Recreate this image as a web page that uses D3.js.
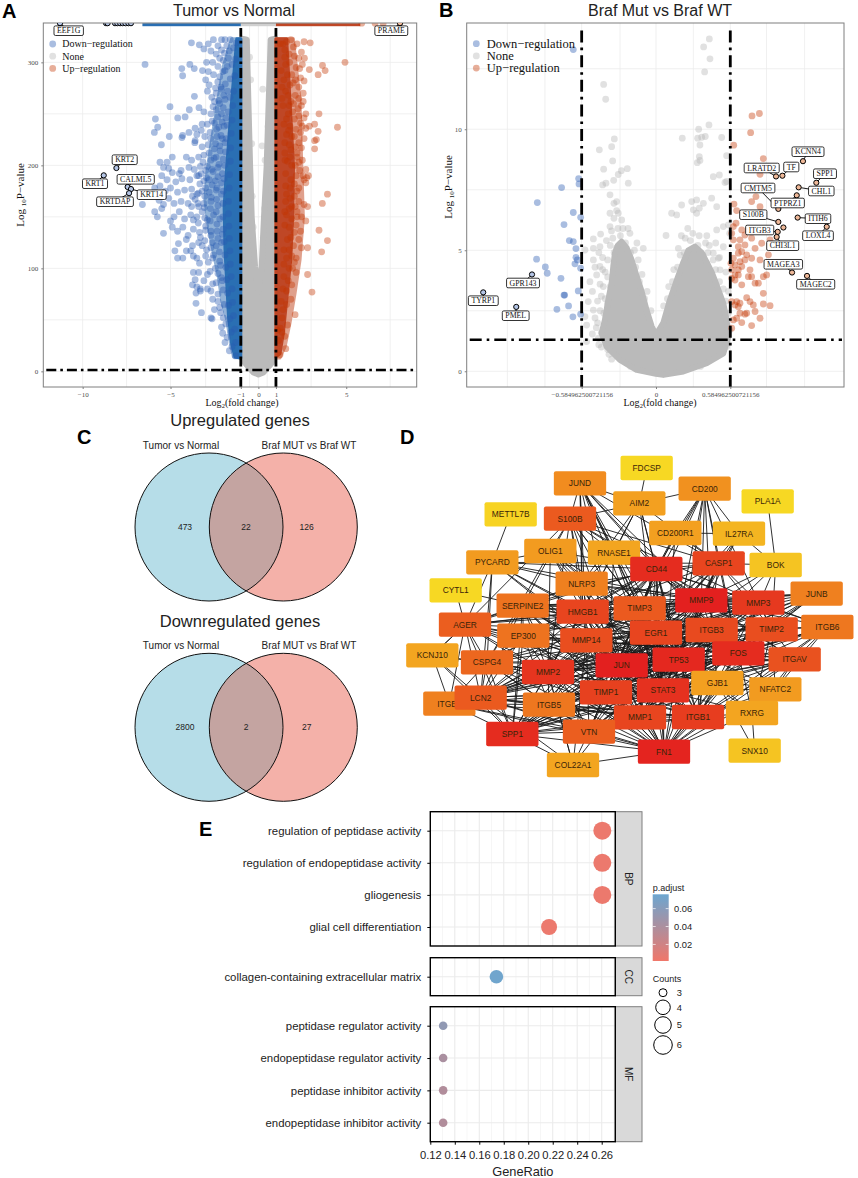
<!DOCTYPE html>
<meta charset='utf-8'>
<style>
    body { margin: 0; background: #fff }
    text { font-family: 'Liberation Sans', Arial, sans-serif }
    .serif text, text.serif, .serif tspan { font-family: 'Liberation Serif', 'Times New Roman', serif }
</style>
<body>
<script src='https://cdnjs.cloudflare.com/ajax/libs/d3/7.8.5/d3.min.js'></script>
<script>
// panel A: volcano values, [log2fc, -log10p]
var downA = [[-3.81,319],[-3.36,317],[-2.85,318],[-2.56,322],[-2.1,322],[-2.3,316],[-1.9,322],[-1.6,322],[-3.1,313],[-2.7,311],[-2.4,308],[-2.1,312],[-1.8,316],
  [-6.45,298],[-3.9,298],[-3.65,294],[-4.36,294],[-4.31,287],[-3.18,292],[-2.95,300],[-2.6,300],[-2.3,296],[-2,302],[-1.7,304],[-3,283],[-2.85,291],[-2.55,288],[-2.2,286],[-1.9,292],
  [-3.64,267],[-2.9,272],[-2.65,266],[-2.4,270],[-2.1,274],[-2.8,278],[-2.5,262],[-1.9,264],[-2.2,260],[-1.75,272],
  [-5.03,257],[-3.93,254],[-3.38,256],[-3.1,252],[-2.7,250],[-2.4,254],[-2.1,250],[-1.85,246],
  [-5.86,245],[-4.59,246],[-4.17,247],[-2.9,240],[-3.2,240],[-2.5,241],[-2.25,237],[-1.95,238],[-3.25,234],[-3.6,236],
  [-5.73,237],[-5.92,232],[-5.07,228],[-4.31,229],[-3.95,232],[-3.5,230],[-3.05,228],[-2.75,232],[-2.35,228],[-2.05,226],[-4.35,227],
  [-5.52,220],[-3.6,224],[-3.62,222],[-3.2,218],[-2.85,220],[-2.5,216],[-2.2,219],[-1.9,222],
  [-4.9,208],[-5.6,203],[-5.2,203],[-4.1,208],[-3.8,205],[-3.4,208],[-3.1,210],[-2.7,205],[-2.4,208],[-2,206],
  [-5.1,197],[-5.4,198],[-4.9,193],[-4.4,195],[-4.5,192],[-3.95,198],[-3.65,196],[-3.3,199],[-3,195],[-2.65,196],[-2.3,198],[-2.05,192],
  [-5.5,190],[-5.2,186],[-4.7,184],[-4.35,187],[-3.9,186],[-3.5,190],[-3.4,190],[-3.1,185],[-2.8,186],[-2.45,185],[-2.1,183],
  [-5.9,178],[-5.6,180],[-5.3,175],[-5,178],[-4.6,174],[-4.2,176],[-3.8,177],[-3.5,172],[-3.2,175],[-2.8,174],[-2.4,176],[-2.1,172],
  [-6.6,162],[-5.65,166],[-5.4,162],[-5.1,168],[-4.8,163],[-4.4,165],[-4,163],[-3.6,167],[-3.4,160],[-3.1,163],[-2.7,165],[-2.3,161],
  [-5.9,155],[-5.75,150],[-5.5,158],[-5,146],[-4.8,150],[-4.5,155],[-4.2,148],[-3.85,152],[-3.5,150],[-3.2,155],[-2.9,147],[-2.55,152],[-2.2,148],
  [-5.4,134],[-4.9,140],[-4.6,136],[-4.3,140],[-4,132],[-3.7,138],[-3.35,135],[-3,137],[-2.7,132],[-2.35,136],[-2.05,133],
  [-4.55,124],[-4.1,128],[-3.75,122],[-3.4,125],[-3.05,127],[-2.7,120],[-2.4,122],[-2.1,125],
  [-4.75,117],[-4.6,110],[-4.3,110],[-4.1,117],[-3.85,117],[-3.7,112],[-3.5,110],[-3.35,105],[-3,112],[-2.6,110],[-2.2,107],
  [-3.7,96],[-3.6,89],[-3.4,96],[-3.75,84],[-3.5,82],[-3.3,80],[-3.1,88],[-2.9,94],[-2.6,85],[-2.3,95],[-2.05,88],
  [-3.55,76],[-3.3,78],[-2.9,80],[-2.6,70],[-2.3,75],[-3.55,66],[-3.24,57],[-2.7,52],[-2.5,60],[-2.2,62],[-2,52],[-2.64,51],[-2.03,37],
  // the thicker cloud next to the threshold
  [-1.25,319],[-1.42,314],[-1.66,311],[-1.93,309],[-2.2,304],[-1.3,303],[-1.5,298],[-1.77,296],[-2.02,291],[-2.31,281],[-1.35,287],[-1.6,284],[-1.88,279],[-2.13,276],[-2.44,275],
  [-1.41,272],[-1.62,266],[-1.97,268],[-2.26,263],[-2.58,257],[-1.46,258],[-1.71,252],[-2,256],[-2.31,247],[-2.63,243],[-1.5,244],[-1.78,239],[-2.06,242],[-2.38,235],[-2.71,226],
  [-1.55,231],[-1.83,226],[-2.13,229],[-2.44,221],[-2.8,212],[-1.58,217],[-1.87,213],[-2.18,214],[-2.52,207],[-2.9,199],[-3.15,203],[-1.6,204],[-1.92,200],[-2.24,201],[-2.58,194],[-2.95,188],[-3.25,192],
  [-1.64,191],[-1.96,187],[-2.3,189],[-2.63,181],[-3,178],[-3.33,182],[-1.66,178],[-2,175],[-2.35,178],[-2.68,169],[-3.05,170],[-3.41,173],[-3.75,170],[-1.7,165],[-2.02,163],[-2.38,167],[-2.73,158],[-3.08,159],[-3.44,163],[-3.8,160],
  [-1.7,153],[-2.02,150],[-2.4,155],[-2.74,146],[-3.05,149],[-3.42,144],[-3.7,147],[-1.68,141],[-2,138],[-2.36,143],[-2.7,136],[-3,141],[-3.3,130],[-1.65,129],[-1.95,126],[-2.3,129],[-2.62,125],[-2.95,118],[-3.2,122],
  [-1.62,117],[-1.9,113],[-2.22,116],[-2.55,113],[-2.85,106],[-1.6,104],[-1.85,101],[-2.15,103],[-2.45,100],[-2.75,97],[-1.55,92],[-1.8,89],[-2.1,91],[-2.4,86],[-2.7,78],[-1.5,80],[-1.75,76],[-2,79],[-2.3,68],
  [-1.47,67],[-1.7,64],[-1.95,65],[-2.15,57],[-1.42,54],[-1.62,51],[-1.85,46],[-2.1,43],[-1.35,41],[-1.55,38],[-1.78,33],[-1.9,28],[-1.3,28],[-1.5,24],[-1.65,20],[-1.3,15]];
var upA = [[2.95,319],[2.2,318],[2.6,320],[1.85,322],[2,315],[1.6,320],[1.4,318],[2.45,310],[2.3,304],[1.75,308],[1.5,312],
  [4.93,300],[3.65,297],[3.8,292],[3.4,288],[2.9,293],[2.5,298],[2.15,295],[1.9,288],[1.55,298],[2.1,283],[2.4,285],[1.8,278],[1.45,283],
  [2.55,270],[2.3,265],[2.1,268],[1.85,262],[2.45,258],[1.55,272],[1.75,258],[1.35,265],
  [3.45,250],[2.3,248],[1.95,252],[2.6,246],[3.2,240],[1.6,245],[2.9,238],[3.4,233],[4.5,237],[2.7,236],[2.4,232],[2.15,235],[1.8,238],
  [3.3,225],[3.2,224],[2.6,226],[2.3,222],[1.9,228],[1.6,230],[3.2,216],[2.1,218],[1.75,220],[1.5,212],
  [2.5,205],[2.2,208],[1.9,200],[1.65,204],[2.35,195],[2.7,196],[2.55,190],[2.75,188],[2.85,190],[2.6,186],[2.7,183],[2.15,190],[1.85,186],[1.55,192],
  [3.93,172],[2.2,175],[1.8,178],[2.05,170],[1.6,172],[3.64,163],[2.3,165],[2.6,162],[2.8,160],[2.1,160],[1.75,158],[1.55,165],
  [2.7,146],[2.2,150],[1.9,148],[1.6,152],[3.45,137],[2.4,136],[2.05,135],[1.75,140],[3.93,127],[2.45,120],[2.8,120],[2,122],[1.65,128],[2.15,110],[1.9,112],[3.6,116],[1.6,110],
  [2.8,94],[2.15,96],[1.75,100],[1.45,92],[1.9,84],[3.05,77],[1.6,78],[1.3,68],[2.09,55],[1.35,52],[1.1,40],[1.56,22],[1.23,16],[1.15,30],[1.25,42],[1.4,60],
  [1.25,318],[1.5,305],[1.78,300],[2.05,306],[2.35,294],[2.62,304],[1.3,292],[1.65,288],[1.98,280],[2.3,276],[2.6,282],[1.35,276],[1.7,268],[2,260],[2.25,255],[2.55,262],
  [1.4,258],[1.7,250],[2.05,245],[2.4,241],[2.7,250],[1.45,240],[1.72,234],[2.05,228],[2.5,238],[1.5,222],[1.85,215],[2.2,212],[2.45,217],[1.52,205],[1.8,208],[2.1,200],[2.3,203],
  [1.55,180],[1.8,168],[2.05,182],[2.3,178],[1.5,155],[1.9,160],[2.2,155],[2.45,150],[1.5,142],[1.85,130],[2.15,142],[2.3,128],[1.45,118],[1.75,118],[2.05,106],[1.45,104],[1.7,88],[1.95,100],[1.4,80],[1.6,65],[1.85,70],[1.35,38],[1.5,34],[1.65,45]];
var noneA = [[-0.44,283],[0.25,274],[-0.63,267],[0.21,219],[-0.38,221],[0.38,205],[-0.5,305],[0.72,300],[0.68,245],[0.55,238],[-0.62,240],[-0.55,180],[0.5,178],[-0.35,170],[0.35,158],[-0.3,140],[0.28,130],[-0.85,322],[0.85,320],[0.78,310],[-0.75,312]];
// the solid masses, too dense to read point by point, as outlines
var coreNoneA = [[-0.95,323],[-0.66,322],[-0.57,263],[-0.47,199],[-0.38,150],[-0.19,102],[0,77],[0.19,102],[0.32,150],[0.47,199],[0.59,263],[0.7,322],[0.97,323],[1,24],[0.76,8],[0.28,-1],[0,-3],[-0.28,-1],[-0.76,8],[-1,24]];
var midDownA = [[-1.52,323],[-2,296],[-2.37,257],[-2.75,215],[-2.94,192],[-3.04,166],[-2.85,140],[-2.56,115],[-2.28,92],[-2.09,69],[-1.8,50],[-1.61,30],[-1.42,14],[-1.04,13],[-1,323]];
var coreDownA = [[-1.23,323],[-1.52,263],[-1.8,199],[-1.95,160],[-1.9,118],[-1.8,85],[-1.7,53],[-1.52,27],[-1.33,14],[-1,13],[-1,323]];
var midUpA = [[1.99,323],[2.37,263],[2.47,199],[2.56,150],[2.37,108],[2.09,76],[1.8,47],[1.52,24],[1.23,13],[1,13],[1,323]];
var coreUpA = [[1.61,323],[1.8,263],[2,199],[1.95,150],[1.84,108],[1.61,69],[1.42,37],[1.23,17],[1,14],[1,323]];
var capY = 338;                       // values above this sit on the top edge of panel A
var capDownRange = [-6.6, -1];
var capNoneRange = [-1, 1];
var capUpRange = [1, 5.8];
var capUpExtra = [5.88, 6.64, 7.1];
var capMarked = [-8.67, -8.58, -8.16, -8.03, -7.87, -7.72, -7.57, -7.4, -7.25];
var genesA = ['KRT2', 'KRT1', 'CALML5', 'KRT14', 'KRTDAP', 'EEF1G', 'PRAME'];
var genesAx = [-8.08, -8.8, -7.44, -7.25, -7.36, -11.29, 8.06];
var genesAy = [197.4, 190.3, 179, 177, 173, 338, 338];
var genesAkind = ['down', 'down', 'down', 'down', 'down', 'down', 'up'];

// panel B
var downB = [[-0.651,13.29],[-0.609,7.96],[-0.606,7.74],[-0.743,7.59],[-0.934,6.97],[-0.651,6.56],[-0.593,6.36],[-0.724,6.06],[-0.682,5.4],[-0.651,5.36],[-0.63,5.07],[-0.94,4.63],[-0.63,4.71],[-0.619,4.6],[-0.638,4.44],[-0.871,4.31],[-0.856,4.05],[-0.593,4.26],[-0.748,3.84],[-0.719,3.15],[-0.724,3.15],[-0.612,3.32],[-0.688,2.7],[-0.78,2.56],[-0.654,2.25],[-0.593,2.36]];
var upB = [[0.814,10.65],[0.756,10.55],[0.745,9.86],[0.612,9.34],[0.845,8.79],[0.819,8.14],[0.787,7.22],[0.753,7.01],[0.819,6.8],[0.614,6.91],[0.635,6.64],[0.845,6.53],[0.63,6.12],[0.609,5.98],[0.675,5.84],[0.727,5.84],[0.7,5.63],[0.661,5.43],[0.753,5.5],[0.832,5.29],[0.898,5.43],[0.596,5.7],[0.609,5.43],[0.648,5.15],[0.7,5.22],[0.675,4.94],[0.648,4.88],[0.714,4.81],[0.753,4.67],[0.78,5.08],[0.885,4.81],[0.898,4.46],[0.59,4.46],[0.609,4.67],[0.622,4.39],[0.661,4.53],[0.7,4.6],[0.819,4.6],[0.596,4.19],[0.648,4.19],[0.675,4.33],[0.622,3.98],[0.648,3.98],[0.596,3.84],[0.622,3.77],[0.675,3.57],[0.727,3.91],[0.753,3.91],[0.78,3.64],[0.806,3.64],[0.845,3.91],[0.871,3.98],[0.74,4.19],[0.845,3.22],[0.714,3.04],[0.74,2.88],[0.766,2.74],[0.635,2.88],[0.661,2.81],[0.596,2.88],[0.622,2.74],[0.648,2.67],[0.845,2.78],[0.898,2.71],[0.661,2.4],[0.7,2.36],[0.78,2.47],[0.609,2.12],[0.635,2.19],[0.675,2.01],[0.753,1.89],[0.819,2.19],[0.714,2.4],[0.596,1.78]];
var noneB = [[0.42,13.73],[0.375,13.4],[0.425,12.91],[0.383,12.37],[-0.412,11.85],[-0.396,11.24],[0.417,10.18],[0.336,10],[0.207,9.63],[0.328,9.63],[0.36,9.67],[0.388,9.7],[0.517,9.66],[0.346,9.35],[0.556,8.91],[0.341,8.87],[0.346,8.71],[0.325,8.62],[0.556,7.84],[0.451,8.04],[0.499,8.11],[0.543,7.8],[-0.328,9.6],[-0.349,9.28],[-0.446,9.15],[-0.341,8.69],[-0.412,8.35],[-0.273,8.29],[-0.226,8.37],[-0.297,8.13],[-0.394,7.77],[-0.333,7.89],[-0.218,7.77],[-0.42,7.7],[-0.362,7.29],[-0.31,7.01],[-0.331,6.94],[-0.31,6.64],[-0.362,6.53],[-0.297,6.53],[-0.331,6.32],[-0.27,6.25],[-0.436,5.67],[-0.493,5.47],[-0.362,5.98],[-0.205,5.7],[0.123,6.53],[0.163,6.46],[0.202,6.87],[0.281,7.01],[0.32,7.08],[0.341,6.74],[0.373,6.94],[0.438,7.15],[0.478,6.8],[0.294,6.67],[0.32,6.53],[0.079,5.61],[0.478,5.84],[0.53,5.98],[0.57,6.05],[0.176,5.08],[-0.559,5.01],[-0.493,5.08],[-0.441,5.15],[-0.1,5.08],[-0.533,2.88],[-0.493,2.53],[-0.559,2.26],[-0.546,1.91],[-0.501,1.54],[-0.454,1.36],[-0.349,0.5],[-0.27,0.54],[0.53,1.78],[0.412,0.95],[0.556,1.02],[-0.546,1.23],[-0.493,4.6],[-0.467,3.98],[-0.441,4.33],[-0.415,3.5],[0.4,4.46],[0.451,4.88],[0.491,4.67],[0.504,4.19],[0.53,5.15],[0.58,5.7],
  [-0.42,4.2],[-0.38,4.6],[-0.33,4.9],[-0.36,3.5],[-0.4,3],[-0.44,2.5],[-0.46,2],[-0.43,1.6],[-0.31,5.1],[-0.28,5.6],[-0.24,5.3],[-0.2,4.9],[-0.16,4.3],[-0.13,3.7],[-0.09,3],[0.09,3],[0.13,3.7],[0.17,4.3],[0.22,4.9],[0.27,5.4],[0.33,5.2],[0.37,4.8],[0.43,4],[0.48,3.2],[0.52,2.5],[0.55,1.9],[0.5,1.2],[0.44,0.8],[-0.38,0.9],[-0.3,0.6],[-0.45,1.1],
  [-0.48,2.2],[-0.46,2.9],[-0.44,3.6],[-0.4,4.1],[-0.38,3.9],[-0.42,4.7],[-0.36,5.2],[-0.34,5.5],[-0.39,5.4],[-0.35,5.8],[-0.3,5.9],[-0.26,5.9],[-0.22,5.9],[-0.43,3.1],[-0.47,1.8],[-0.41,2.4],[-0.38,2.8],[-0.5,3.3],[-0.52,3.7],[-0.48,4.3],[-0.45,4.9],[-0.17,5],[-0.14,4.6],[-0.11,4],[-0.07,3.3],[-0.04,2.5],
  [0.06,2.7],[0.1,3.5],[0.14,4.2],[0.19,4.8],[0.23,5.5],[0.29,5.7],[0.34,5.6],[0.39,5.3],[0.41,4.9],[0.45,4.6],[0.47,4.2],[0.5,3.7],[0.53,3.4],[0.55,2.9],[0.57,2.4],[0.58,1.7],[0.56,1.3],[0.52,0.9],[0.47,0.6],[0.35,0.2],[0.25,0.1],[-0.2,0.2],[-0.37,0.7],[-0.43,1],[-0.15,5.3],[0.33,4.9],[0.42,5.2],[0.47,5.3],[0.5,4.7],[0.55,4.1],[0.57,3.3],[0.4,5.6],[0.25,5.9],[0.2,5.6]];
var coreNoneB = [[0,-0.1],[-0.152,0.06],[-0.283,0.47],[-0.388,1.02],[-0.428,1.57],[-0.402,2.12],[-0.375,2.95],[-0.349,3.64],[-0.336,4.33],[-0.323,4.88],[-0.3,5.2],[-0.27,5.35],[-0.231,5.1],[-0.192,4.6],[-0.157,4.0],[-0.113,3.3],[-0.073,2.5],[-0.034,1.85],[0,1.5],[0.058,2.0],[0.11,2.95],[0.163,3.75],[0.215,4.5],[0.255,5.0],[0.307,5.15],[0.36,4.9],[0.399,4.5],[0.438,4.1],[0.478,3.55],[0.53,2.8],[0.556,2.12],[0.57,1.43],[0.53,0.74],[0.399,0.33],[0.215,-0.01],[0.058,-0.15]];
var genesB = ['KCNN4', 'LRATD2', 'TF', 'SPP1', 'CHL1', 'CMTM5', 'PTPRZ1', 'S100B', 'ITIH6', 'LOXL4', 'ITGB3', 'CHI3L1', 'MAGEA3', 'MAGEC2', 'GPR143', 'TYRP1', 'PMEL'];
var genesBx = [1.157, 0.945, 0.995, 1.262, 1.123, 0.963, 1.108, 0.963, 1.115, 1.344, 0.958, 0.95, 1.071, 1.189, -0.976, -1.36, -1.1];
var genesBy = [8.68, 8.05, 8.08, 7.79, 7.6, 6.71, 7.27, 6.17, 6.35, 5.97, 5.76, 5.55, 4.08, 3.94, 4, 3.26, 2.66];
var genesBkind = ['up', 'up', 'up', 'up', 'up', 'up', 'up', 'up', 'up', 'up', 'up', 'up', 'up', 'up', 'down', 'down', 'down'];
var extraMarkedB = [[1.003, 5.94]];

var legendNames = ['Down\u2212regulation', 'None', 'Up\u2212regulation'];
var thresholdA = { fc: 1, p: 1.3 };
var thresholdB = { fc: 0.584962500721156, p: 1.3 };

// panel C
var vennLabels = ['Tumor vs Normal', 'Braf MUT vs Braf WT'];
var vennUp = [473, 22, 126];
var vennDown = [2800, 2, 27];

// panel D: nodes in paint order, positions are the layout of the network drawing
var nodeNames = ['FDCSP','JUND','CD200','AIM2','PLA1A','S100B','METTL7B','CD200R1','IL27RA','OLIG1','RNASE1','PYCARD','CD44','CASP1','BOK','NLRP3','CYTL1','JUNB','SERPINE2','MMP9','MMP3','HMGB1','TIMP3','AGER','ITGB6','EP300','MMP14','EGR1','ITGB3','TIMP2','KCNJ10','CSPG4','FOS','TP53','ITGAV','JUN','MMP2','GJB1','NFATC2','ITGB8','LCN2','ITGB5','TIMP1','STAT3','RXRG','MMP1','ITGB1','SPP1','VTN','SNX10','FN1','COL22A1'];
var nodeU = [680,480,854,658,1043,450,272,766,957,391,582,217,709,896,1067,485,107,1190,308,844,1015,488,659,135,1222,310,499,708,875,1055,37,201,955,776,1124,605,384,892,1066,88,182,387,558,729,996,660,834,277,507,1004,732,459];
var nodeV = [84,130,146,190,184,236,223,279,281,333,338,367,387,370,375,431,451,461,497,481,488,515,505,554,561,587,601,578,570,568,646,667,640,659,658,676,696,729,748,791,773,794,757,751,819,832,831,882,875,932,935,975];
var nodeDegree = [1,16,15,12,1,28,2,12,8,13,11,13,39,33,5,19,1,19,22,42,36,33,28,27,21,22,31,33,32,31,11,25,39,40,30,42,37,12,13,19,28,21,34,38,11,33,35,39,27,5,41,11];
var edgeLists = [
  'FDCSP AIM2', 'METTL7B PYCARD', 'PLA1A BOK', 'CYTL1 AGER SERPINE2', 'SNX10 RXRG GJB1', 'COL22A1 FN1 VTN SPP1 MMP2',
  'JUND S100B AIM2 CD44 HMGB1 NLRP3 TIMP3 MMP9 JUN FOS TP53 STAT3 EGR1 MMP14 CASP1 RNASE1',
  'CD200 AIM2 CD200R1 IL27RA CASP1 CD44 MMP9 TIMP3 ITGB3 STAT3 TP53 FOS TIMP2 JUN',
  'AIM2 S100B CD44 CASP1 NLRP3 HMGB1 TP53 STAT3 RNASE1',
  'S100B OLIG1 RNASE1 AGER NLRP3 HMGB1 CD44 MMP9 MMP2 JUN TP53 STAT3 CASP1 MMP3 SERPINE2 TIMP3',
  'CD200R1 CD44 CASP1 IL27RA STAT3 TIMP3', 'IL27RA CASP1 MMP9 STAT3 JUN BOK',
  'OLIG1 PYCARD NLRP3 EGR1 CD44 TIMP3 JUN STAT3 MMP2 CSPG4 TP53 HMGB1',
  'RNASE1 CD44 TIMP3 TIMP1 MMP2 STAT3 MMP9 NLRP3',
  'PYCARD CASP1 NLRP3 HMGB1 CD44 JUN STAT3 TP53 AGER CSPG4 LCN2 MMP9',
  'BOK CASP1 MMP9 JUN TP53 TIMP2 FOS',
  'CD44 CASP1 MMP9 MMP3 MMP2 MMP14 TIMP1 TIMP2 TIMP3 EGR1 FN1 SPP1 VTN JUN TP53 FOS STAT3 HMGB1 ITGB1 ITGB3 ITGAV ITGB5 ITGB6 LCN2 SERPINE2 EP300 MMP1 AGER CSPG4',
  'CASP1 NLRP3 HMGB1 MMP9 MMP3 JUN TP53 FOS STAT3 ITGB1 MMP1 TIMP1 EGR1 LCN2 TIMP2 SPP1',
  'NLRP3 HMGB1 MMP9 JUN TP53 STAT3 TIMP1 MMP3 AGER SERPINE2 FN1',
  'JUNB JUN FOS MMP9 MMP3 EGR1 TP53 STAT3 TIMP1 MMP1 TIMP2 ITGB3 HMGB1 SERPINE2',
  'SERPINE2 AGER MMP2 MMP14 MMP9 MMP3 EGR1 JUN TP53 FOS STAT3 TIMP1 TIMP2 TIMP3 LCN2 ITGB1 ITGB3 FN1 SPP1 VTN EP300 CSPG4 MMP1',
  'MMP9 MMP3 MMP2 MMP14 MMP1 TIMP1 TIMP2 TIMP3 FN1 SPP1 VTN JUN TP53 FOS STAT3 EGR1 HMGB1 LCN2 ITGB1 ITGB3 ITGAV COL22A1 AGER EP300 CSPG4 ITGB5',
  'MMP3 MMP2 MMP14 MMP1 TIMP1 TIMP2 TIMP3 FN1 SPP1 VTN JUN FOS STAT3 TP53 LCN2 ITGB1 AGER EGR1',
  'HMGB1 AGER TP53 STAT3 JUN EP300 FOS EGR1 LCN2 SPP1 MMP2 TIMP1 FN1 ITGB3 ITGB1 MMP1 MMP14 CSPG4',
  'TIMP3 TIMP1 TIMP2 MMP2 MMP14 MMP1 EGR1 STAT3 JUN FOS TP53 FN1 VTN SPP1 ITGB1 ITGB3',
  'AGER MMP2 STAT3 JUN TP53 EP300 LCN2 SPP1 FN1 CSPG4 ITGB8 ITGB1 KCNJ10 EGR1',
  'ITGB6 ITGAV ITGB1 ITGB3 ITGB5 TIMP2 FN1 SPP1 VTN MMP3 MMP9 NFATC2 FOS TIMP1',
  'EP300 TP53 JUN STAT3 FOS EGR1 MMP2 MMP14 ITGB5 LCN2 FN1 SPP1 CSPG4 TIMP1',
  'MMP14 MMP2 TIMP1 TIMP2 FN1 SPP1 VTN ITGB1 ITGB3 ITGAV ITGB5 JUN TP53 STAT3 LCN2 CSPG4 FOS MMP1 COL22A1 EGR1',
  'EGR1 JUN FOS TP53 STAT3 ITGB3 ITGB1 FN1 SPP1 TIMP1 TIMP2 MMP2 MMP1 VTN NFATC2 ITGAV GJB1',
  'ITGB3 ITGB1 ITGAV ITGB5 ITGB8 FN1 VTN SPP1 TIMP1 TIMP2 MMP2 MMP1 FOS JUN TP53 STAT3 GJB1 NFATC2 LCN2 CSPG4',
  'TIMP2 TIMP1 MMP2 MMP1 FN1 VTN ITGAV ITGB1 FOS JUN STAT3 TP53 NFATC2 GJB1 RXRG',
  'KCNJ10 CSPG4 ITGB8 AGER LCN2 MMP2 SPP1', 'CSPG4 MMP2 LCN2 ITGB8 ITGB5 SPP1 VTN JUN STAT3 TP53 FN1 TIMP1 MMP1',
  'FOS JUN TP53 STAT3 ITGAV NFATC2 GJB1 TIMP1 MMP1 MMP2 FN1 ITGB1 SPP1 RXRG',
  'TP53 JUN STAT3 MMP2 TIMP1 MMP1 FN1 ITGB1 SPP1 LCN2 ITGAV NFATC2 GJB1 VTN RXRG ITGB5',
  'ITGAV ITGB1 ITGB5 FN1 VTN SPP1 MMP2 TIMP1 NFATC2 JUN STAT3 RXRG',
  'JUN STAT3 MMP2 MMP1 TIMP1 FN1 SPP1 LCN2 ITGB1 ITGB5 VTN NFATC2 GJB1 ITGB8',
  'MMP2 TIMP1 MMP1 FN1 SPP1 VTN LCN2 ITGB1 ITGB5 ITGB8 STAT3 COL22A1',
  'GJB1 ITGB1 STAT3 MMP1 FN1 RXRG', 'NFATC2 STAT3 ITGB1 FN1 RXRG',
  'ITGB8 LCN2 SPP1 VTN ITGB5 FN1 ITGB1 TIMP1', 'LCN2 SPP1 ITGB5 TIMP1 MMP1 VTN FN1 STAT3 ITGB1 COL22A1',
  'ITGB5 SPP1 VTN FN1 TIMP1 MMP1 ITGB1 STAT3', 'TIMP1 STAT3 MMP1 FN1 SPP1 VTN ITGB1',
  'STAT3 MMP1 ITGB1 FN1 SPP1 VTN RXRG', 'RXRG ITGB1 FN1', 'MMP1 ITGB1 FN1 SPP1 VTN', 'ITGB1 FN1 SPP1 VTN',
  'SPP1 VTN FN1', 'VTN FN1'];

// panel E
var facetNames = ['BP', 'CC', 'MF'];
var termsBP = ['regulation of peptidase activity', 'regulation of endopeptidase activity', 'gliogenesis', 'glial cell differentiation'];
var termsCC = ['collagen-containing extracellular matrix'];
var termsMF = ['peptidase regulator activity', 'endopeptidase regulator activity', 'peptidase inhibitor activity', 'endopeptidase inhibitor activity'];
var ratioBP = [0.2605, 0.2605, 0.2605, 0.217], ratioCC = [0.174], ratioMF = [0.1305, 0.1305, 0.1305, 0.1305];
var countBP = [6, 6, 6, 5], countCC = [4], countMF = [3, 3, 3, 3];
var padjBP = [0.004, 0.004, 0.004, 0.004], padjCC = [0.074], padjMF = [0.055, 0.041, 0.037, 0.037];
var ratioTicks = [0.12, 0.14, 0.16, 0.18, 0.2, 0.22, 0.24, 0.26];
var padjTicks = [0.02, 0.04, 0.06];
var countLegend = [3, 4, 5, 6];

var width = 858, height = 1178;
var svg = d3.select('body').append('svg').attr('width', width).attr('height', height).style('display', 'block');

var letters = [['A', 2, 18], ['B', 439, 17], ['C', 77, 444], ['D', 400, 444], ['E', 199, 836]];
svg.selectAll('.letter').data(letters).enter().append('text').attr('class', 'letter')
    .attr('x', function(d) { return d[1]; }).attr('y', function(d) { return d[2]; })
    .style('font-size', '20px').style('font-weight', 'bold').text(function(d) { return d[0]; });

var dotColor = { down: '#285ab1', none: '#b5b5b5', up: '#c23500' };
var lightColor = { down: '#b4c5e6', up: '#eeb898' };

function volcano(o) {
    var g = svg.append('g').attr('class', 'serif');
    var x = d3.scaleLinear().domain(o.xDomain).range([o.left, o.right]);
    var y = d3.scaleLinear().domain(o.yDomain).range([o.bottom, o.top]);
    var clip = 'clip' + o.id;
    g.append('clipPath').attr('id', clip).append('rect')
        .attr('x', o.left).attr('y', o.top).attr('width', o.right - o.left).attr('height', o.bottom - o.top);

    g.selectAll('.gx').data(o.gridX).enter().append('line').attr('stroke', '#ececec').attr('stroke-width', 0.8)
        .attr('x1', x).attr('x2', x).attr('y1', o.top).attr('y2', o.bottom);
    g.selectAll('.gy').data(o.gridY).enter().append('line').attr('stroke', '#ececec').attr('stroke-width', 0.8)
        .attr('y1', y).attr('y2', y).attr('x1', o.left).attr('x2', o.right);

    var plot = g.append('g').attr('clip-path', 'url(#' + clip + ')');
    var outline = d3.line().x(function(d) { return x(d[0]); }).y(function(d) { return y(d[1]); }).curve(d3.curveLinearClosed);
    function mass(points, color, edge, opacity) {
        plot.append('path').attr('d', outline(points)).attr('fill', color).attr('opacity', opacity)
            .attr('stroke', color).attr('stroke-width', edge).attr('stroke-linejoin', 'round');
    }
    function dots(points, color) {
        plot.append('g').selectAll('circle').data(points).enter().append('circle')
            .attr('cx', function(d) { return x(d[0]); }).attr('cy', function(d) { return y(d[1]); })
            .attr('r', 3.4).attr('fill', color).attr('fill-opacity', 0.4);
    }
    dots(o.none, dotColor.none);
    mass(o.coreNone, '#bababa', 6, 1);
    (o.masses || []).forEach(function(m) { mass(m[0], m[1], m[2], m[3]); });
    dots(o.down, dotColor.down);
    dots(o.up, dotColor.up);
    if (o.cap) o.cap(plot, x, y);

    // threshold lines
    [-o.thr.fc, o.thr.fc].forEach(function(v) {
        g.append('line').attr('x1', x(v)).attr('x2', x(v)).attr('y1', o.bottom).attr('y2', o.top + o.vTop)
            .attr('stroke', '#000').attr('stroke-width', 2.8).attr('stroke-dasharray', o.dash);
    });
    g.append('line').attr('x1', o.left + 3).attr('x2', o.right - 2).attr('y1', y(o.thr.p)).attr('y2', y(o.thr.p))
        .attr('stroke', '#000').attr('stroke-width', 2.4).attr('stroke-dasharray', o.dash);

    g.append('rect').attr('x', o.left).attr('y', o.top).attr('width', o.right - o.left).attr('height', o.bottom - o.top)
        .attr('fill', 'none').attr('stroke', '#7f7f7f').attr('stroke-width', 1);

    // axes
    var ax = g.append('g').attr('transform', 'translate(0,' + o.bottom + ')')
        .call(d3.axisBottom(x).tickValues(o.xTicks).tickSize(2).tickFormat(o.xFormat));
    var ay = g.append('g').attr('transform', 'translate(' + o.left + ',0)')
        .call(d3.axisLeft(y).tickValues(o.yTicks).tickSize(2));
    [ax, ay].forEach(function(a) {
        a.select('.domain').remove();
        a.selectAll('line').attr('stroke', '#7f7f7f');
        a.selectAll('text').attr('fill', '#4d4d4d').style('font-size', '7px');
    });

    var xt = g.append('text').attr('x', o.xTitleX).attr('y', 406).attr('text-anchor', 'middle').style('font-size', '10px').attr('fill', '#111');
    xt.append('tspan').text('Log');
    xt.append('tspan').attr('dy', 2).style('font-size', '6.5px').text('2');
    xt.append('tspan').attr('dy', -2).text('(fold change)');
    var yt = g.append('text').attr('transform', 'translate(' + o.yTitleX + ',' + o.yTitleY + ') rotate(-90)')
        .attr('text-anchor', 'middle').style('font-size', '11px').attr('fill', '#111');
    yt.append('tspan').text('Log ');
    yt.append('tspan').attr('dy', 2).style('font-size', '7px').text('10');
    yt.append('tspan').attr('dy', -2).text('P\u2212value');

    // legend
    var leg = g.selectAll('.leg').data(legendNames).enter().append('g')
        .attr('transform', function(d, i) { return 'translate(' + o.legX + ',' + (o.legY + i * 12.2) + ')'; });
    leg.append('circle').attr('r', 3.4).attr('fill', function(d, i) { return [dotColor.down, dotColor.none, dotColor.up][i]; }).attr('fill-opacity', 0.4);
    leg.append('text').attr('x', o.legTextDx).attr('dy', '0.33em').style('font-size', o.legSize).attr('fill', '#111').text(function(d) { return d; });

    // labelled genes: connectors, rings, boxes
    var marks = o.genes.map(function(name, i) {
        return { name: name, px: x(o.gx[i]), py: y(o.gy[i]), kind: o.gkind[i], bx: o.boxX[i], by: o.boxY[i] };
    });
    g.selectAll('.conn').data(marks).enter().append('line').attr('stroke', '#000').attr('stroke-width', 0.9)
        .attr('x1', function(d) { return d.px; }).attr('y1', function(d) { return d.py; })
        .attr('x2', function(d) { return d.bx; }).attr('y2', function(d) { return d.by; });
    var ringG = g.append('g').attr('clip-path', 'url(#' + clip + ')');
    ringG.selectAll('circle').data(marks).enter().append('circle')
        .attr('cx', function(d) { return d.px; }).attr('cy', function(d) { return d.py; }).attr('r', 2.6)
        .attr('fill', function(d) { return lightColor[d.kind]; }).attr('stroke', '#000').attr('stroke-width', 1);
    (o.extra || []).forEach(function(d) {
        ringG.append('circle').attr('cx', x(d[0])).attr('cy', y(d[1])).attr('r', 2.6)
            .attr('fill', lightColor.up).attr('stroke', '#000').attr('stroke-width', 1);
    });
    var box = g.selectAll('.box').data(marks).enter().append('g')
        .attr('transform', function(d) { return 'translate(' + d.bx + ',' + d.by + ')'; });
    var rects = box.append('rect').attr('fill', '#fff').attr('stroke', '#000').attr('stroke-width', 0.8).attr('rx', 1.5);
    var txt = box.append('text').attr('text-anchor', 'middle').attr('dy', '0.34em').style('font-size', '7.8px').attr('fill', '#111').text(function(d) { return d.name; });
    txt.each(function(d, i) {
        var w = this.getComputedTextLength() + 6;
        d3.select(rects.nodes()[i]).attr('x', -w / 2).attr('y', -4.8).attr('width', w).attr('height', 9.6);
    });
}

volcano({
    id: 'A', left: 43.3, right: 416.7, top: 23, bottom: 387,
    xDomain: [-12.24, 9.01], yDomain: [-15.2, 338.2],
    gridX: [-10, -7.5, -5, -3, -1, -0.5, 0, 0.5, 1, 3, 5, 7.5], gridY: [0, 50, 100, 150, 200, 250, 300],
    xTicks: [-10, -5, -1, 0, 1, 5], yTicks: [0, 100, 200, 300],
    xFormat: function(d) { return String(d).replace('-', '\u2212'); },
    none: noneA, down: downA, up: upA, coreNone: coreNoneA,
    masses: [[midDownA, '#4a80bd', 3, 0.6], [coreDownA, '#2a6fb3', 3, 1], [midUpA, '#cb6240', 3, 0.6], [coreUpA, '#bf4726', 3, 1]],
    cap: function(plot, x, y) {
        var bands = [[capNoneRange, '#d0d0d0'], [capDownRange, '#2a6fb3'], [capUpRange, '#bf4726']];
        plot.selectAll('.band').data(bands).enter().append('rect')
            .attr('x', function(d) { return x(d[0][0]); }).attr('width', function(d) { return x(d[0][1]) - x(d[0][0]); })
            .attr('y', y(capY)).attr('height', 3).attr('fill', function(d) { return d[1]; });
        plot.selectAll('.capUp').data(capUpExtra).enter().append('circle')
            .attr('cx', x).attr('cy', y(capY)).attr('r', 3.4).attr('fill', dotColor.up).attr('fill-opacity', 0.4);
        plot.selectAll('.capM').data(capMarked).enter().append('circle')
            .attr('cx', x).attr('cy', y(capY)).attr('r', 2.6).attr('fill', lightColor.down).attr('stroke', '#000');
    },
    thr: thresholdA, dash: '10,4,2.6,4', vTop: 5,
    xTitleX: 242, yTitleX: 24, yTitleY: 195,
    legX: 52.7, legY: 44, legTextDx: 9.5, legSize: '10px',
    genes: genesA, gx: genesAx, gy: genesAy, gkind: genesAkind,
    boxX: [124.7, 95, 135.7, 151.7, 115, 68.7, 391.3], boxY: [159.7, 183.7, 179.3, 194.7, 201.7, 30.7, 30.7]
});

volcano({
    id: 'B', left: 466.7, right: 844, top: 23, bottom: 387,
    xDomain: [-1.49, 1.48], yDomain: [-0.65, 14.39],
    gridX: [-1.17, -0.874, -0.584962500721156, -0.283, 0, 0.294, 0.584962500721156, 0.87, 1.17], gridY: [0, 2.5, 5, 7.5, 10, 12.5],
    xTicks: [-0.584962500721156, 0, 0.584962500721156], yTicks: [0, 5, 10],
    xFormat: function(d) { return d === 0 ? '0' : String(d).replace('-', '\u2212'); },
    none: noneB, down: downB, up: upB, coreNone: coreNoneB,
    thr: thresholdB, dash: '12,5,2.6,5', vTop: 6,
    xTitleX: 660, yTitleX: 452, yTitleY: 187,
    legX: 476.3, legY: 43.7, legTextDx: 10.5, legSize: '12.5px',
    genes: genesB, gx: genesBx, gy: genesBy, gkind: genesBkind,
    boxX: [808, 761.7, 791.3, 825, 821.3, 758, 787.7, 753.3, 818, 818, 759.7, 782.7, 783.3, 815.7, 523, 483.3, 515.7],
    boxY: [151.7, 168, 167, 173.7, 191, 188, 203, 214.7, 218.7, 235.7, 230, 245.7, 264.3, 284.3, 283, 300.7, 315.7],
    extra: extraMarkedB
});

svg.append('text').attr('x', 234).attr('y', 16).attr('text-anchor', 'middle').style('font-size', '16px').attr('fill', '#222').text('Tumor vs Normal');
svg.append('text').attr('x', 660).attr('y', 16).attr('text-anchor', 'middle').style('font-size', '16px').attr('fill', '#222').text('Braf Mut vs Braf WT');

// venn panels
function venn(title, titleY, counts, cy, id) {
    var r = 74, cx = [209, 283.3];
    svg.append('text').attr('x', 240).attr('y', titleY).attr('text-anchor', 'middle').style('font-size', '16.5px').attr('fill', '#222').text(title);
    svg.selectAll('.vl' + id).data(vennLabels).enter().append('text')
        .attr('x', function(d, i) { return [181, 309][i]; }).attr('y', cy - 78)
        .attr('text-anchor', 'middle').style('font-size', '10px').attr('fill', '#222').text(function(d) { return d; });
    svg.append('circle').attr('cx', cx[0]).attr('cy', cy).attr('r', r).attr('fill', '#b6dde8');
    svg.append('circle').attr('cx', cx[1]).attr('cy', cy).attr('r', r).attr('fill', '#f4b1a9');
    svg.append('clipPath').attr('id', 'venn' + id).append('circle').attr('cx', cx[1]).attr('cy', cy).attr('r', r);
    svg.append('circle').attr('cx', cx[0]).attr('cy', cy).attr('r', r).attr('fill', '#c4a4a1').attr('clip-path', 'url(#venn' + id + ')');
    cx.forEach(function(c) {
        svg.append('circle').attr('cx', c).attr('cy', cy).attr('r', r).attr('fill', 'none').attr('stroke', '#111').attr('stroke-width', 1);
    });
    svg.selectAll('.vc' + id).data(counts).enter().append('text')
        .attr('x', function(d, i) { return [185, 246, 306.7][i]; }).attr('y', cy).attr('dy', '0.35em')
        .attr('text-anchor', 'middle').style('font-size', '8.5px').attr('fill', '#222').text(function(d) { return d; });
}
venn('Upregulated genes', 426, vennUp, 527, 'u');
venn('Downregulated genes', 627, vennDown, 727.3, 'd');

// network
var netX = d3.scaleLinear().domain([0, 1314]).range([420, 858]);
var netY = d3.scaleLinear().domain([0, 1080]).range([440, 800]);
var netColor = d3.scaleLinear().domain([1, 16, 42]).range(['#f7d823', '#f18c1f', '#e3201f']);
var byName = {};
nodeNames.forEach(function(n, i) { byName[n] = { name: n, x: netX(nodeU[i]), y: netY(nodeV[i]), deg: nodeDegree[i] }; });
var edges = [];
edgeLists.forEach(function(s) {
    var p = s.split(' ');
    p.slice(1).forEach(function(t) { edges.push([byName[p[0]], byName[t]]); });
});
var net = svg.append('g');
net.selectAll('line').data(edges).enter().append('line')
    .attr('x1', function(d) { return d[0].x; }).attr('y1', function(d) { return d[0].y; })
    .attr('x2', function(d) { return d[1].x; }).attr('y2', function(d) { return d[1].y; })
    .attr('stroke', '#1a1a1a').attr('stroke-width', 0.9);
var nw = 52.3, nh = 24.4;
var node = net.selectAll('.node').data(nodeNames.map(function(n) { return byName[n]; })).enter().append('g')
    .attr('transform', function(d) { return 'translate(' + d.x + ',' + d.y + ')'; });
node.append('rect').attr('x', -nw / 2).attr('y', -nh / 2).attr('width', nw).attr('height', nh).attr('rx', 2)
    .attr('fill', function(d) { return netColor(d.deg); });
node.append('text').attr('text-anchor', 'middle').attr('dy', '0.35em').style('font-size', '8.4px').attr('fill', '#3a2408').text(function(d) { return d.name; });

// dot plot
var left = 430.3, right = 615.3, stripRight = 642;
var xRatio = d3.scaleLinear().domain([0.12, 0.26]).range([430.3, 601.7]);
var padjColor = d3.scaleLinear().domain([0.0015, 0.076]).range(['#f0776a', '#6ca6d0']);
var sizeScale = d3.scaleLinear().domain([3, 4, 5, 6]).range([4.3, 6.8, 8, 9]);
var facets = [
    { name: facetNames[0], terms: termsBP, ratio: ratioBP, count: countBP, padj: padjBP, y0: 811.7, y1: 946 },
    { name: facetNames[1], terms: termsCC, ratio: ratioCC, count: countCC, padj: padjCC, y0: 957.7, y1: 995.7 },
    { name: facetNames[2], terms: termsMF, ratio: ratioMF, count: countMF, padj: padjMF, y0: 1006.7, y1: 1141.7 }
];
var minorRatio = ratioTicks.map(function(t) { return t + 0.01; });
facets.forEach(function(f) {
    var g = svg.append('g');
    var y = d3.scalePoint().domain(f.terms).range([f.y0 + 19, f.y1 - 19]);
    g.selectAll('.mi').data(minorRatio).enter().append('line').attr('stroke', '#f0f0f0').attr('stroke-width', 0.6)
        .attr('x1', xRatio).attr('x2', xRatio).attr('y1', f.y0).attr('y2', f.y1);
    g.selectAll('.ma').data(ratioTicks).enter().append('line').attr('stroke', '#ebebeb').attr('stroke-width', 1.1)
        .attr('x1', xRatio).attr('x2', xRatio).attr('y1', f.y0).attr('y2', f.y1);
    g.selectAll('.hz').data(f.terms).enter().append('line').attr('stroke', '#ebebeb').attr('stroke-width', 1.1)
        .attr('y1', y).attr('y2', y).attr('x1', left).attr('x2', right);
    g.selectAll('circle').data(f.terms).enter().append('circle')
        .attr('cx', function(d, i) { return xRatio(f.ratio[i]); }).attr('cy', y)
        .attr('r', function(d, i) { return sizeScale(f.count[i]); })
        .attr('fill', function(d, i) { return padjColor(f.padj[i]); });
    g.append('rect').attr('x', right).attr('y', f.y0).attr('width', stripRight - right).attr('height', f.y1 - f.y0)
        .attr('fill', '#d9d9d9').attr('stroke', '#7f7f7f').attr('stroke-width', 1);
    g.append('rect').attr('x', left).attr('y', f.y0).attr('width', right - left).attr('height', f.y1 - f.y0)
        .attr('fill', 'none').attr('stroke', '#000').attr('stroke-width', 1.4);
    g.append('text').attr('transform', 'translate(' + ((right + stripRight) / 2) + ',' + ((f.y0 + f.y1) / 2) + ') rotate(90)')
        .attr('text-anchor', 'middle').attr('dy', '0.35em').style('font-size', '10px').attr('fill', '#222').text(f.name);
    var ay = g.append('g').attr('transform', 'translate(' + left + ',0)').call(d3.axisLeft(y).tickSize(3).tickPadding(6));
    ay.select('.domain').remove();
    ay.selectAll('line').attr('stroke', '#000');
    ay.selectAll('text').attr('fill', '#222').style('font-size', '11.4px').style('font-family', "'Liberation Sans'");
});
var axE = svg.append('g').attr('transform', 'translate(0,1141.7)')
    .call(d3.axisBottom(xRatio).tickValues(ratioTicks).tickSize(3).tickPadding(6).tickFormat(d3.format('.2f')));
axE.select('.domain').remove();
axE.selectAll('line').attr('stroke', '#000');
axE.selectAll('text').attr('fill', '#222').style('font-size', '11.2px').style('font-family', "'Liberation Sans'");
svg.append('text').attr('x', 522.8).attr('y', 1176).attr('text-anchor', 'middle').style('font-size', '12.8px').attr('fill', '#222').text('GeneRatio');

// colour bar and size legend
var barY = d3.scaleLinear().domain([0.0015, 0.076]).range([961, 894.3]);
var defs = svg.append('defs');
var grad = defs.append('linearGradient').attr('id', 'padjGrad').attr('x1', 0).attr('x2', 0).attr('y1', 1).attr('y2', 0);
grad.selectAll('stop').data(padjColor.domain()).enter().append('stop')
    .attr('offset', function(d, i) { return i; }).attr('stop-color', padjColor);
svg.append('text').attr('x', 652.7).attr('y', 890.7).style('font-size', '9px').attr('fill', '#222').text('p.adjust');
svg.append('rect').attr('x', 652.7).attr('y', 894.3).attr('width', 16).attr('height', 66.7).attr('fill', 'url(#padjGrad)');
padjTicks.forEach(function(t) {
    [[652.7, 655.7], [665.7, 668.7]].forEach(function(p) {
        svg.append('line').attr('x1', p[0]).attr('x2', p[1]).attr('y1', barY(t)).attr('y2', barY(t)).attr('stroke', '#fff').attr('stroke-width', 0.7);
    });
    svg.append('text').attr('x', 674).attr('y', barY(t)).attr('dy', '0.35em').style('font-size', '9.3px').attr('fill', '#222').text(t.toFixed(2));
});
svg.append('text').attr('x', 652.7).attr('y', 982).style('font-size', '9px').attr('fill', '#222').text('Counts');
var legR = d3.scaleLinear().domain([3, 4, 5, 6]).range([4, 7.3, 8.3, 9.3]);
var legPos = d3.scaleOrdinal().domain(countLegend).range([992.7, 1007.3, 1025, 1045]);
svg.selectAll('.cnt').data(countLegend).enter().append('circle')
    .attr('cx', 663).attr('cy', legPos).attr('r', legR).attr('fill', 'none').attr('stroke', '#000').attr('stroke-width', 1);
svg.selectAll('.cntT').data(countLegend).enter().append('text')
    .attr('x', 679.3).attr('y', legPos).attr('dy', '0.35em').attr('text-anchor', 'middle').style('font-size', '9.3px').attr('fill', '#222').text(function(d) { return d; });
</script>
</body>
